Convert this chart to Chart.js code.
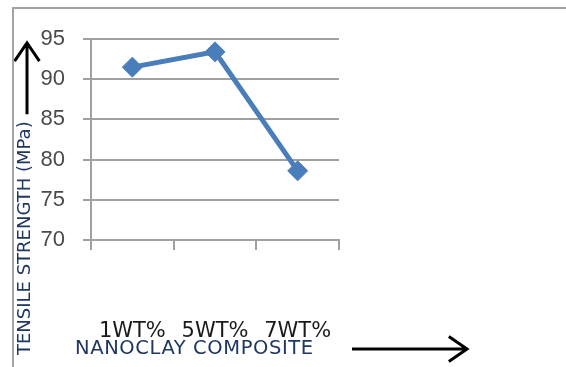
<!DOCTYPE html>
<html>
<head>
<meta charset="utf-8">
<script src="https://cdn.jsdelivr.net/npm/chart.js@4/dist/chart.umd.min.js"></script>
<style>
  html, body { margin: 0; padding: 0; background: #fff; }
  #wrap { position: relative; width: 566px; height: 367px; overflow: hidden; }
  #frame {
    position: absolute; left: 12px; top: 7px; width: 600px; height: 400px;
    border-top: 2px solid #a3a3a3; border-left: 2px solid #a3a3a3;
    pointer-events: none;
  }
  canvas { position: absolute; left: 0; top: 0; }
</style>
</head>
<body>
<div id="wrap">
  <canvas id="chart" width="566" height="367"></canvas>
  <div id="frame"></div>
</div>
<script>
// Tensile strength of the nanoclay composites
const categories = ['1WT%', '5WT%', '7WT%'];
const tensileStrength = [91.5, 93.4, 78.6];
const yTicks = [70, 75, 80, 85, 90, 95];

const yTitle = 'TENSILE STRENGTH (MPa)';
const xTitle = 'NANOCLAY COMPOSITE';
const titleColor = '#1f3763';

function arrow(ctx, x1, y1, x2, y2, head) {
  const a = Math.atan2(y2 - y1, x2 - x1);
  ctx.beginPath();
  ctx.moveTo(x1, y1);
  ctx.lineTo(x2, y2);
  ctx.moveTo(x2 - head * Math.cos(a - 0.6), y2 - head * Math.sin(a - 0.6));
  ctx.lineTo(x2, y2);
  ctx.lineTo(x2 - head * Math.cos(a + 0.6), y2 - head * Math.sin(a + 0.6));
  ctx.stroke();
}

// Axis titles with their direction arrows
const axisTitles = {
  id: 'axisTitles',
  afterDraw(chart) {
    const { ctx, chartArea } = chart;
    ctx.save();
    ctx.fillStyle = titleColor;
    ctx.strokeStyle = '#000';
    ctx.lineWidth = 3;
    ctx.lineCap = 'butt';

    // vertical title, reading bottom to top
    ctx.font = '18px "DejaVu Sans"';
    const tx = chartArea.left - 66;
    const tBottom = chart.height - 12;
    const tLen = ctx.measureText(yTitle).width;
    ctx.save();
    ctx.translate(tx, tBottom);
    ctx.rotate(-Math.PI / 2);
    ctx.textAlign = 'left';
    ctx.textBaseline = 'middle';
    ctx.fillText(yTitle, 0, 0);
    ctx.restore();
    arrow(ctx, tx + 2, tBottom - tLen - 7, tx + 2, chartArea.top + 4, 22);

    // horizontal title, slightly tracked out
    ctx.font = '19.5px "DejaVu Sans"';
    if ('letterSpacing' in ctx) ctx.letterSpacing = '0.6px';
    const hy = chart.height - 18;
    ctx.textAlign = 'left';
    ctx.textBaseline = 'middle';
    ctx.fillText(xTitle, chartArea.left - 16, hy);
    if ('letterSpacing' in ctx) ctx.letterSpacing = '0px';
    arrow(ctx, chartArea.right + 13, hy, chartArea.right + 128, hy, 22);
    ctx.restore();
  }
};

new Chart(document.getElementById('chart'), {
  type: 'line',
  data: {
    labels: categories,
    datasets: [{
      data: tensileStrength,
      borderColor: '#4a7ebb',
      backgroundColor: '#4a7ebb',
      borderWidth: 5,
      pointStyle: 'rectRot',
      pointRadius: 10,
      pointBorderWidth: 1,
      tension: 0
    }]
  },
  options: {
    responsive: false,
    animation: false,
    events: [],
    layout: { padding: { left: 13, right: 227, top: 39, bottom: 0 } },
    plugins: { legend: { display: false }, tooltip: { enabled: false } },
    scales: {
      x: {
        offset: true,
        grid: {
          offset: true,
          drawOnChartArea: false,
          drawTicks: true,
          tickLength: 10,
          color: '#a0a0a0',
          lineWidth: 2
        },
        border: { color: '#a0a0a0', width: 2 },
        ticks: {
          color: '#1a1a1a',
          font: { family: 'DejaVu Sans', size: 21 },
          padding: 69,
          maxRotation: 0
        },
        afterFit(scale) { scale.height = 127; }
      },
      y: {
        min: 70,
        max: 95,
        afterBuildTicks(scale) { scale.ticks = yTicks.map(v => ({ value: v })); },
        grid: {
          color: '#a0a0a0',
          lineWidth: 2,
          tickLength: 8
        },
        border: { color: '#a0a0a0', width: 2 },
        ticks: {
          color: '#4a4a4a',
          font: { family: 'Liberation Sans', size: 22 },
          padding: 18
        },
        afterFit(scale) { scale.width = 78; }
      }
    }
  },
  plugins: [axisTitles]
});
</script>
</body>
</html>
